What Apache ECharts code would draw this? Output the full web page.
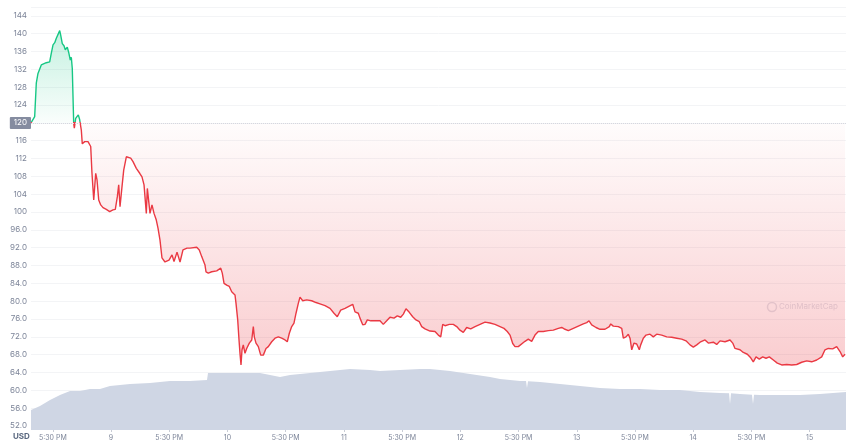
<!DOCTYPE html>
<html>
<head>
<meta charset="utf-8">
<script src="https://cdn.jsdelivr.net/npm/echarts@6/dist/echarts.min.js"></script>
<style>
html,body{margin:0;padding:0;background:#fff;}
#chart{width:850px;height:444px;}
</style>
</head>
<body>
<div id="chart"></div>
<script>
// Time in hours from the chart's first sample
const priceHours = [0,0.4,0.76,1.09,1.44,2.12,3.15,3.85,4.18,4.54,4.89,5.22,5.57,5.92,6.12,6.45,6.80,7.07,7.48,7.77,8.10,8.31,8.51,8.66,8.80,8.93,9.21,9.48,9.75,10.04,10.37,10.57,11.07,11.75,12.10,12.31,12.57,12.93,13.34,13.61,13.96,14.37,14.84,15.52,16.22,16.90,17.38,17.79,18.08,18.35,18.76,19.11,19.65,20.00,20.55,21.03,21.71,22.41,22.88,23.30,23.56,23.77,23.98,24.27,24.53,24.94,25.36,25.83,26.18,26.59,27.00,27.62,28.45,29.07,29.48,30.10,30.72,31.33,32.16,32.78,34.16,34.69,35.19,35.52,35.87,36.07,36.55,37.25,38.28,39.11,39.43,39.79,40.34,40.88,41.37,41.70,42.05,42.26,42.61,42.88,43.08,43.29,43.50,43.76,44.11,44.46,45.00,45.50,45.83,46.03,46.38,46.86,47.35,47.89,48.44,48.92,49.62,50.30,50.98,51.68,52.36,52.83,53.25,53.74,54.21,54.63,55.10,55.45,56.01,56.83,57.86,58.75,59.57,60.61,61.64,62.46,63.14,63.84,64.73,65.61,66.32,66.79,67.47,67.82,68.38,68.85,69.33,70.03,70.91,71.94,72.62,73.32,74.00,74.83,75.51,76.21,76.75,77.30,77.98,78.68,79.36,80.04,80.54,81.22,82.25,83.28,83.96,84.46,84.87,85.34,86.23,87.05,87.75,88.43,89.11,89.81,90.64,91.53,92.56,93.59,94.62,95.65,96.68,97.50,98.18,98.74,99.30,99.77,100.45,100.80,101.83,102.51,103.21,103.89,104.57,105.60,106.64,107.67,108.70,109.40,110.08,110.76,111.79,112.82,113.85,114.55,115.03,115.58,116.47,117.29,118.32,119.21,119.50,120.03,121.07,121.77,122.10,122.65,123.13,123.48,123.83,124.30,124.86,125.39,125.68,126.22,126.78,127.60,128.28,128.98,130.01,131.04,132.07,133.10,134.13,135.02,135.85,136.53,137.23,137.91,138.94,139.62,140.65,141.35,142.03,143.06,144.09,144.65,145.12,146.15,146.83,147.66,148.36,148.89,149.45,150.13,150.83,151.51,152.19,153.02,153.84,154.75,155.78,156.81,157.84,158.87,159.90,160.93,161.96,162.99,163.67,164.35,165.26,166.08,166.77,167.32,167.80];
const priceValues = [120.0,119.9,121.4,128.9,131.1,133.0,133.5,133.7,135.6,137.5,138.0,139.0,138.6,140.7,139.7,137.8,137.3,136.4,137.0,135.8,134.1,134.7,132.2,132.6,119.9,118.8,121.0,120.7,121.8,120.7,118.4,115.3,115.8,115.8,116.2,114.7,108.7,102.7,108.7,107.2,102.7,101.6,101.0,100.6,100.1,100.5,100.6,103.4,106.1,101.2,105.7,109.4,112.4,112.8,112.1,111.3,109.8,108.7,107.9,106.1,105.7,99.7,105.3,104.9,99.7,101.6,99.7,98.2,96.4,93.7,89.7,88.8,89.2,90.4,88.9,91.0,88.8,91.5,91.9,91.9,92.1,91.5,90.0,89.6,88.1,86.6,86.3,86.6,86.8,87.4,86.3,84.0,83.6,83.3,82.1,81.8,81.4,79.5,75.8,71.3,68.3,65.7,69.1,70.2,68.3,69.4,70.6,71.3,74.3,72.0,70.6,69.8,67.9,67.9,69.4,69.8,70.9,71.7,72.0,71.7,71.3,70.9,72.8,74.3,75.1,77.3,79.5,80.9,80.1,80.3,80.1,79.7,79.4,79.0,78.4,77.3,76.5,78.0,78.4,78.9,79.3,77.6,77.3,76.2,74.7,74.8,75.8,75.6,75.6,75.6,74.8,75.6,76.4,76.2,76.7,76.4,77.1,78.3,77.5,76.5,75.8,75.4,74.3,73.8,73.3,73.2,72.4,72.0,74.8,74.5,74.8,74.8,74.3,73.5,73.0,74.1,73.8,74.3,74.8,75.3,75.1,74.8,74.3,73.9,73.2,72.4,70.5,69.8,69.8,69.8,71.0,71.5,71.0,72.4,73.2,73.2,73.4,73.5,73.9,74.1,73.7,73.4,73.9,74.4,74.9,75.2,75.6,74.7,74.1,73.7,73.7,74.3,74.9,74.4,74.3,73.9,71.7,72.0,72.6,71.7,69.1,70.6,70.4,69.1,70.2,71.7,72.4,72.6,72.0,72.6,72.4,72.0,71.9,71.7,71.5,71.1,70.2,69.7,70.2,70.8,71.3,70.6,70.8,70.3,71.1,70.9,71.3,70.6,69.4,69.1,68.5,68.1,67.3,66.4,67.5,67.0,67.5,67.2,67.5,66.8,66.1,65.7,65.8,65.7,65.8,66.3,66.6,66.4,66.8,67.5,69.1,69.4,69.3,69.8,68.7,67.5,68.1];
const volumeHours = [0,1.86,3.92,5.98,8.04,10.10,12.16,14.22,16.28,18.35,20.41,24.53,28.65,32.78,36.28,36.49,47.21,49.27,51.33,53.39,57.51,61.64,65.76,69.88,71.94,76.07,80.19,82.25,86.37,90.50,94.62,96.68,100.80,102.04,102.24,102.45,104.92,109.05,113.17,117.29,121.41,125.54,129.66,133.78,137.91,142.03,143.89,144.09,144.30,146.15,148.62,148.83,149.04,150.27,154.40,158.52,162.64,168];
const volumeValues = [95,113,142,165,184,184,194,194,208,213,217,222,232,232,236,270,270,260,251,260,270,279,288,284,279,284,288,288,279,265,251,241,232,232,199,230,227,217,208,199,194,194,189,189,180,175,174,123,174,170,167,123,167,165,165,165,170,180];
const xTickHours = [4.5,16.5,28.5,40.5,52.5,64.5,76.5,88.5,100.5,112.5,124.5,136.5,148.5,160.5];
const xTickLabels = ['5:30 PM','9','5:30 PM','10','5:30 PM','11','5:30 PM','12','5:30 PM','13','5:30 PM','14','5:30 PM','15'];
const baseline = 120;

const priceData = priceHours.map((h, i) => [h, priceValues[i]]);
const volumeData = volumeHours.map((h, i) => [h, volumeValues[i]]);
const pMax = Math.max(...priceValues), pMin = Math.min(...priceValues);
const stop = (pMax - baseline) / (pMax - pMin);

const chart = echarts.init(document.getElementById('chart'), null, {renderer: 'canvas'});
const labelMap = {};
xTickHours.forEach((h, i) => { labelMap[h] = xTickLabels[i]; });

const lineGrad = new echarts.graphic.LinearGradient(0, 0, 0, 1, [
  {offset: 0, color: '#16c784'},
  {offset: stop, color: '#16c784'},
  {offset: stop, color: '#ea3943'},
  {offset: 1, color: '#ea3943'}
]);
const areaGrad = new echarts.graphic.LinearGradient(0, 0, 0, 1, [
  {offset: 0, color: 'rgba(22,199,132,0.36)'},
  {offset: stop, color: 'rgba(22,199,132,0.03)'},
  {offset: stop, color: 'rgba(234,57,67,0.02)'},
  {offset: 1, color: 'rgba(234,57,67,0.36)'}
]);

chart.setOption({
  animation: false,
  backgroundColor: '#fff',
  grid: [
    {left: 31, right: 4, top: 7, bottom: 18},
    {left: 31, right: 4, top: 7, bottom: 14}
  ],
  xAxis: [
    {type: 'value', gridIndex: 0, min: 0, max: 168, show: false},
    {type: 'value', gridIndex: 1, min: 0, max: 168,
      axisLine: {show: false},
      splitLine: {show: false},
      axisTick: {show: true, customValues: xTickHours, length: 2, lineStyle: {color: '#c9cdd6'}},
      axisLabel: {customValues: xTickHours, margin: 4, fontSize: 7, color: '#7c8498', fontFamily: 'Inter',
        formatter: v => labelMap[v] || ''}
    }
  ],
  yAxis: [
    {type: 'value', gridIndex: 0, min: 52, max: 146, interval: 4,
      axisLine: {show: false}, axisTick: {show: false},
      splitLine: {lineStyle: {color: '#f3f4f6', width: 1}},
      axisLabel: {fontSize: 8, color: '#7c8498', margin: 4, fontFamily: 'Inter', showMaxLabel: false,
        formatter: v => (v === baseline || v > 144) ? '' : (v >= 100 ? String(v) : v.toFixed(1))}
    },
    {type: 'value', gridIndex: 1, min: 0, max: 2000, show: false}
  ],
  series: [
    {
      type: 'line', xAxisIndex: 1, yAxisIndex: 1, data: volumeData,
      symbol: 'none', silent: true, z: 1,
      lineStyle: {width: 0},
      areaStyle: {color: '#cfd6e4', opacity: 1}
    },
    {
      type: 'line', xAxisIndex: 0, yAxisIndex: 0, data: priceData,
      symbol: 'none', z: 3,
      lineStyle: {width: 1.4, color: lineGrad},
      itemStyle: {color: '#ea3943'},
      areaStyle: {origin: baseline, color: areaGrad}
    },
    {
      type: 'line', xAxisIndex: 0, yAxisIndex: 0, data: [],
      markLine: {
        silent: true, symbol: 'none',
        lineStyle: {color: '#d5d8df', type: 'dotted', width: 1},
        label: {position: 'start', formatter: String(baseline), distance: 0,
          backgroundColor: '#858ca0', color: '#fff', fontSize: 8, padding: [2, 4, 2, 4],
          borderRadius: 1, fontFamily: 'Inter'},
        data: [{yAxis: baseline}]
      }
    }
  ],
  graphic: [
    {type: 'text', left: 13, top: 433, style: {text: 'USD', fontSize: 8, fontWeight: 'bold', fill: '#58667e', fontFamily: 'Inter'}},
    {type: 'circle', shape: {cx: 772, cy: 307, r: 4.5}, style: {fill: 'none', stroke: 'rgba(170,175,195,0.35)', lineWidth: 1.5}},
    {type: 'text', left: 779, top: 303, style: {text: 'CoinMarketCap', fontSize: 8, fill: 'rgba(170,175,195,0.4)', fontFamily: 'Inter'}}
  ]
});
</script>
</body>
</html>
